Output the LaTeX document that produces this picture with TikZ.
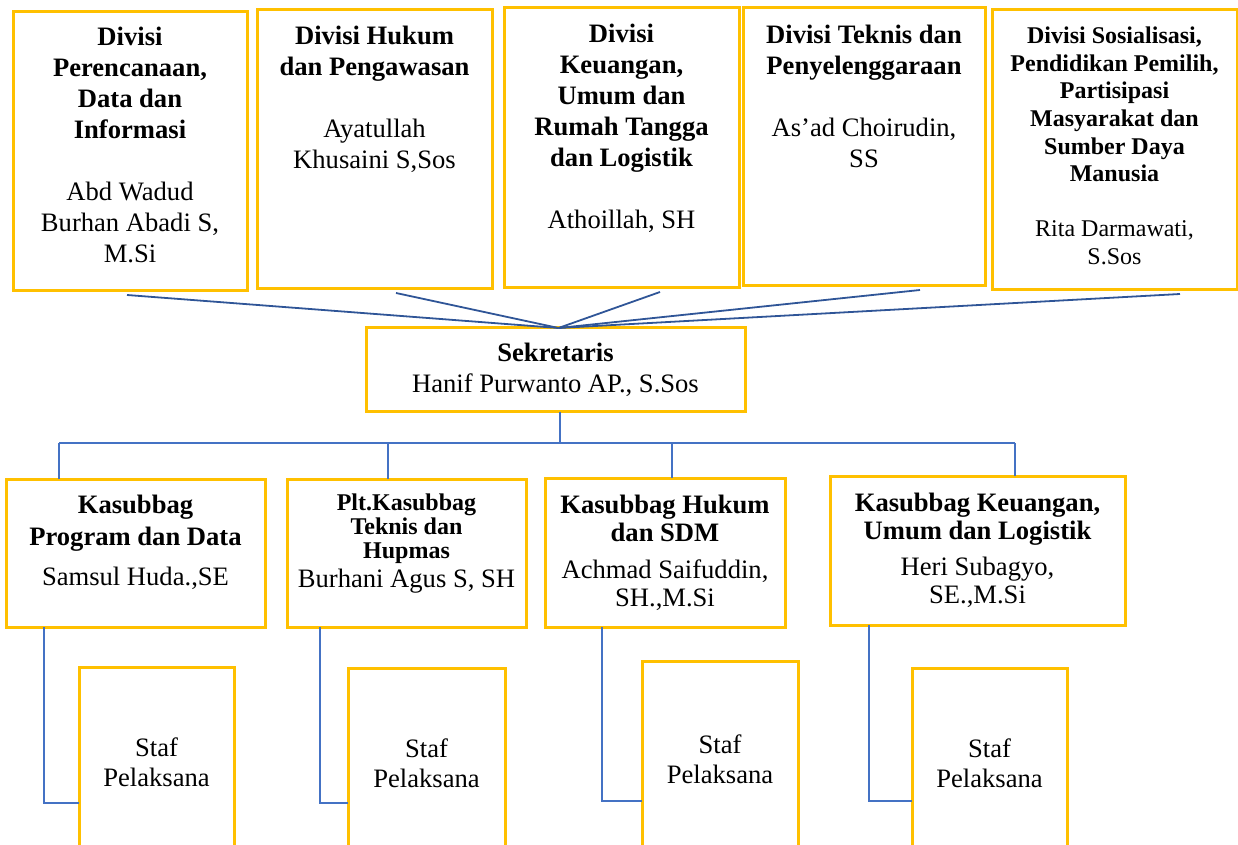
\documentclass[tikz,border=0pt]{standalone}
\usepackage{fontspec}
\setmainfont{Liberation Serif}
\usetikzlibrary{calc}
\definecolor{kpugold}{HTML}{FFC000}
\definecolor{kpublue}{HTML}{2F5597}
\definecolor{kpulight}{HTML}{4472C4}

\begin{document}
\begin{tikzpicture}[
  x=0.5pt, y=-0.5pt,
  box/.style={rectangle, draw=kpugold, line width=1.5pt, inner sep=0pt, outer sep=0pt},
  txt/.style={align=center, inner sep=0pt, font=\fontsize{13.3}{15.5}\selectfont},
  small/.style={align=center, inner sep=0pt, font=\fontsize{12}{13.8}\selectfont},
  fan/.style={kpublue, line width=0.9pt},
  tree/.style={kpulight, line width=0.75pt},
]
\useasboundingbox (0,0) rectangle (1238,845);
\clip (0,0) rectangle (1238,845);

% Divisi boxes
\node[box, minimum width=117pt, minimum height=139.5pt] (div1) at (130,151.5) {};
\node[box, minimum width=117.5pt, minimum height=139.5pt] (div2) at (374.5,149.5) {};
\node[box, minimum width=117.5pt, minimum height=140pt] (div3) at (621.5,148) {};
\node[box, minimum width=121pt, minimum height=139pt] (div4) at (864,147) {};
\node[box, minimum width=122.5pt, minimum height=140pt] (div5) at (1114.5,150) {};

\node[txt] (div1t) at (130,145) {\textbf{Divisi}\\\textbf{Perencanaan,}\\\textbf{Data dan}\\\textbf{Informasi}\\[15.5pt]Abd Wadud\\Burhan Abadi S,\\M.Si};
\node[txt] (div2t) at (374.5,99) {\textbf{Divisi Hukum}\\\textbf{dan Pengawasan}\\[15.5pt]Ayatullah\\Khusaini S,Sos};
\node[txt] (div3t) at (621.5,128) {\textbf{Divisi}\\\textbf{Keuangan,}\\\textbf{Umum dan}\\\textbf{Rumah Tangga}\\\textbf{dan Logistik}\\[15.5pt]Athoillah, SH};
\node[txt] (div4t) at (864,96) {\textbf{Divisi Teknis dan}\\\textbf{Penyelenggaraan}\\[15.5pt]As’ad Choirudin,\\SS};
\node[small] (div5t) at (1114.5,146) {\textbf{Divisi Sosialisasi,}\\\textbf{Pendidikan Pemilih,}\\\textbf{Partisipasi}\\\textbf{Masyarakat dan}\\\textbf{Sumber Daya}\\\textbf{Manusia}\\[13.8pt]Rita Darmawati,\\S.Sos};

% Sekretaris
\node[box, txt, minimum width=189.5pt, minimum height=42pt] (sekr) at (555.5,370) {\textbf{Sekretaris}\\Hanif Purwanto AP., S.Sos};

\foreach \n/\dx in {1/-1.5, 2/10.75, 3/19.25, 4/28, 5/32.75}
  \draw[fan] ([xshift=\dx pt, yshift=-2pt]div\n.south) -- ([xshift=1.5pt]sekr.north);

% Kasubbag boxes
\node[box, minimum width=129.5pt, minimum height=74pt] (k1) at (135.5,553) {};
\node[box, minimum width=119.5pt, minimum height=74pt] (k2) at (406.5,553) {};
\node[box, minimum width=120pt, minimum height=74.5pt] (k3) at (665,552.5) {};
\node[box, minimum width=147.5pt, minimum height=74.5pt] (k4) at (977.5,550.5) {};

\node[txt, font=\fontsize{13.3}{16}\selectfont] (k1t) at (135.5,542.5) {\textbf{Kasubbag}\\\textbf{Program dan Data}\\[4pt]Samsul Huda.,SE};
\node[txt, font=\fontsize{12}{12}\selectfont] (k2t) at (406.5,544) {\textbf{Plt.Kasubbag}\\\textbf{Teknis dan}\\\textbf{Hupmas}\\[2.5pt]{\fontsize{13.3}{14}\selectfont Burhani Agus S, SH}};
\node[txt, font=\fontsize{13.3}{14}\selectfont] (k3t) at (665,552.5) {\textbf{Kasubbag Hukum}\\\textbf{dan SDM}\\[4.5pt]Achmad Saifuddin,\\SH.,M.Si};
\node[txt, font=\fontsize{13.3}{14}\selectfont] (k4t) at (977.5,550) {\textbf{Kasubbag Keuangan,}\\\textbf{Umum dan Logistik}\\[4pt]Heri Subagyo,\\SE.,M.Si};

\coordinate (bus) at (560,443);
\coordinate (d1) at ([xshift=26.5pt]k1.north west);
\coordinate (d2) at ([xshift=50.5pt]k2.north west);
\coordinate (d3) at ([xshift=63.5pt]k3.north west);
\coordinate (d4) at ([xshift=92.5pt]k4.north west);
\draw[tree] ([xshift=2.25pt]sekr.south) -- ([xshift=2.25pt]sekr.south |- bus);
\draw[tree] (d1 |- bus) -- (d4 |- bus);
\foreach \i in {1,...,4}
  \draw[tree] (d\i |- bus) -- (d\i);

% Staf boxes
\node[box, txt, font=\fontsize{13.3}{15}\selectfont, minimum width=77.5pt, minimum height=95.5pt] (s1) at (156.5,762.5) {Staf\\Pelaksana};
\node[box, txt, font=\fontsize{13.3}{15}\selectfont, minimum width=78.5pt, minimum height=95pt] (s2) at (426.5,763) {Staf\\Pelaksana};
\node[box, txt, font=\fontsize{13.3}{15}\selectfont, minimum width=78pt, minimum height=98.5pt] (s3) at (720,759.5) {Staf\\Pelaksana};
\node[box, txt, font=\fontsize{13.3}{15}\selectfont, minimum width=77.5pt, minimum height=95pt] (s4) at (989.5,763) {Staf\\Pelaksana};

\coordinate (e1) at ([xshift=19pt]k1.south west);
\coordinate (e2) at ([xshift=16.5pt]k2.south west);
\coordinate (e3) at ([xshift=28.5pt]k3.south west);
\coordinate (e4) at ([xshift=19.5pt]k4.south west);
\coordinate (t1) at ([yshift=-20.25pt]s1.west);
\coordinate (t2) at ([yshift=-20pt]s2.west);
\coordinate (t3) at ([yshift=-20.75pt]s3.west);
\coordinate (t4) at ([yshift=-19pt]s4.west);
\foreach \i in {1,...,4}
  \draw[tree] (e\i) |- (t\i);

\end{tikzpicture}
\end{document}
